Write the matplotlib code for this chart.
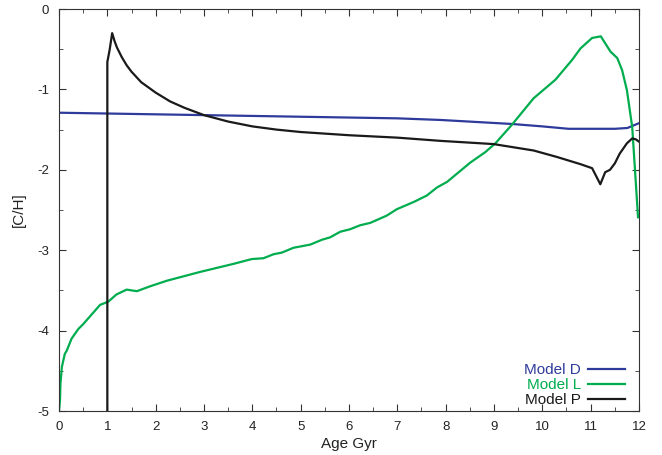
import numpy as np
import matplotlib
matplotlib.use('Agg')
import matplotlib.pyplot as plt
from matplotlib.ticker import MultipleLocator

plt.rcParams['font.family'] = ['Liberation Sans', 'DejaVu Sans']
plt.rcParams['axes.unicode_minus'] = False

# Model D (blue)
d_age = [0, 1, 2, 3, 4, 5, 6, 7, 7.89, 9.37, 10, 10.54, 11, 11.5, 11.76, 12]
d_ch = [-1.29, -1.30, -1.31, -1.32, -1.33, -1.34, -1.35, -1.36, -1.38, -1.43,
        -1.46, -1.49, -1.49, -1.49, -1.48, -1.42]

# Model L (green)
l_age = [0, 0.02, 0.03, 0.06, 0.12, 0.16, 0.26, 0.40, 0.50, 0.85, 1.02, 1.19,
         1.40, 1.61, 1.88, 2.23, 2.92, 3.61, 3.99, 4.23, 4.44, 4.61, 4.85, 5.2,
         5.44, 5.61, 5.82, 6.02, 6.23, 6.44, 6.78, 6.99, 7.34, 7.61, 7.82, 8.03,
         8.23, 8.51, 8.82, 9.03, 9.37, 9.82, 10.27, 10.62, 10.79, 11.03, 11.21,
         11.41, 11.55, 11.65, 11.75, 11.86, 11.98]
l_ch = [-5.0, -4.87, -4.66, -4.45, -4.29, -4.25, -4.10, -3.98, -3.92, -3.68,
        -3.64, -3.55, -3.49, -3.51, -3.45, -3.38, -3.27, -3.17, -3.11, -3.10,
        -3.05, -3.03, -2.97, -2.93, -2.87, -2.84, -2.77, -2.74, -2.69, -2.66,
        -2.57, -2.49, -2.40, -2.32, -2.22, -2.15, -2.05, -1.91, -1.78, -1.67,
        -1.44, -1.11, -0.88, -0.63, -0.49, -0.36, -0.34, -0.53, -0.61, -0.76,
        -1.01, -1.47, -2.59]

# Model P (black)
p_age = [1.0, 1.0, 1.05, 1.10, 1.15, 1.2, 1.3, 1.4, 1.5, 1.7, 2.0, 2.3, 2.6,
         3.0, 3.5, 4.0, 4.5, 5, 6, 7, 7.89, 8.99, 9.82, 10.3, 10.79, 11.03,
         11.2, 11.3, 11.4, 11.5, 11.6, 11.75, 11.86, 11.93, 12]
p_ch = [-5.0, -0.66, -0.50, -0.30, -0.40, -0.48, -0.60, -0.70, -0.78, -0.91,
        -1.04, -1.15, -1.23, -1.32, -1.40, -1.46, -1.50, -1.53, -1.57, -1.60,
        -1.64, -1.68, -1.76, -1.84, -1.93, -1.98, -2.18, -2.03, -2.0, -1.92,
        -1.80, -1.67, -1.61, -1.62, -1.65]

fig = plt.figure(figsize=(6.62, 4.55), dpi=100)
ax = fig.add_axes([59 / 662, 44 / 455, 580 / 662, 402 / 455])

ax.plot(d_age, d_ch, color='#2e3b9b', lw=1.6, label='Model D')
ax.plot(l_age, l_ch, color='#00ad4e', lw=1.6, label='Model L')
ax.plot(p_age, p_ch, color='#1a1a1a', lw=1.6, label='Model P')

ax.set_xlim(0, 12)
ax.set_ylim(-5, 0)
ax.xaxis.set_major_locator(MultipleLocator(1))
ax.xaxis.set_minor_locator(MultipleLocator(0.5))
ax.yaxis.set_major_locator(MultipleLocator(1))
ax.yaxis.set_minor_locator(MultipleLocator(0.5))
ax.tick_params(which='both', direction='in', top=True, right=True,
               colors='#333333', labelcolor='#222222', labelsize=9.5)
ax.tick_params(which='major', length=5, pad=7)
ax.tick_params(which='minor', length=3)
for s in ax.spines.values():
    s.set_color('#333333')

ax.set_xlabel('Age Gyr', fontsize=11, color='#222222', labelpad=3)
ax.set_ylabel('[C/H]', fontsize=11, color='#222222', labelpad=8)

leg = ax.legend(loc='lower right', bbox_to_anchor=(0.976, 0.01), frameon=False,
                markerfirst=False, fontsize=11, handlelength=2.4,
                handletextpad=0.5, labelspacing=0.05, borderaxespad=0,
                borderpad=0)
for txt, ln in zip(leg.get_texts(), leg.get_lines()):
    txt.set_color(ln.get_color())

fig.savefig('out.png', dpi=100)
